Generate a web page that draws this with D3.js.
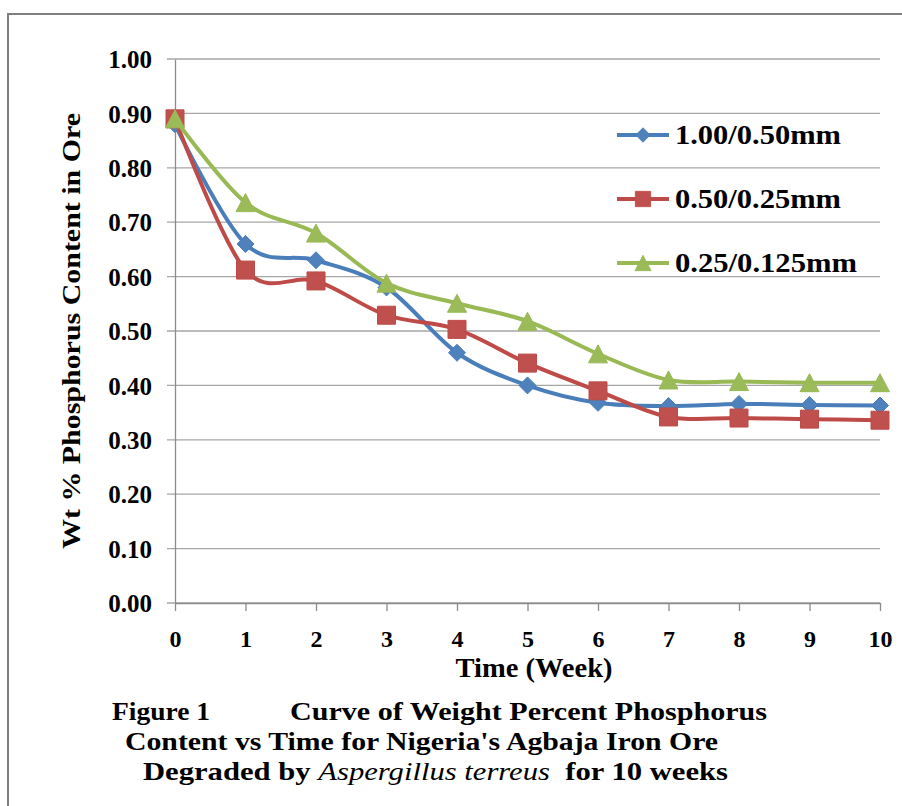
<!DOCTYPE html>
<html>
<head>
<meta charset="utf-8">
<script src="https://cdn.jsdelivr.net/npm/d3@7"></script>
<style>
  body { margin: 0; background: #fff; }
  svg { display: block; font-family: "Liberation Serif", "Times New Roman", serif; font-weight: bold; }
</style>
</head>
<body>
<div id="chart"></div>
<script>
/* Wt % phosphorus vs time - D3 line chart */
const weeks = [0, 1, 2, 3, 4, 5, 6, 7, 8, 9, 10];
const yTicks = [0, 0.1, 0.2, 0.3, 0.4, 0.5, 0.6, 0.7, 0.8, 0.9, 1.0];

const size100_050 = [0.88, 0.66, 0.63, 0.58, 0.46, 0.40, 0.368, 0.362, 0.366, 0.364, 0.363];
const size050_025 = [0.89, 0.612, 0.592, 0.529, 0.503, 0.441, 0.39, 0.342, 0.34, 0.338, 0.336];
const size025_0125 = [0.89, 0.736, 0.68, 0.588, 0.551, 0.518, 0.458, 0.41, 0.407, 0.405, 0.405];

const seriesNames = ["1.00/0.50mm", "0.50/0.25mm", "0.25/0.125mm"];

const height = 806,
    width = 902,
    margin = ({ top: 59, right: 22, bottom: 203, left: 175 });

const svg = d3.select("#chart")
    .append("svg")
    .attr("width", width)
    .attr("height", height);

// outer frame of the figure
svg.append("rect")
    .attr("x", 8).attr("y", 14)
    .attr("width", 1000).attr("height", 1000)
    .attr("fill", "none")
    .attr("stroke", "#7f7f7f")
    .attr("stroke-width", 2);

let x = d3.scaleLinear()
    .domain([0, 10])
    .range([margin.left, width - margin.right]);

let y = d3.scaleLinear()
    .domain([0, 1])
    .range([height - margin.bottom, margin.top]);

// horizontal gridlines (they also stick out left as tick marks)
svg.append("g")
  .selectAll("line")
  .data(yTicks)
  .join("line")
    .attr("x1", margin.left - 8)
    .attr("x2", x(10))
    .attr("y1", d => y(d))
    .attr("y2", d => y(d))
    .attr("stroke", "#a6a6a6")
    .attr("stroke-width", 1.3);

// y axis
const yAxis = svg.append("g")
    .attr("transform", `translate(${margin.left},0)`)
    .call(d3.axisLeft(y).tickValues(yTicks).tickSize(0).tickSizeOuter(0).tickFormat(d3.format(".2f")));
yAxis.attr("font-family", null).attr("font-size", null);
yAxis.select(".domain").attr("stroke", "#8c8c8c").attr("stroke-width", 1.3);
yAxis.selectAll("text")
    .attr("x", -23)
    .attr("dy", "0.35em")
    .attr("font-size", 25)
    .attr("fill", "#000");

// x axis
const xAxis = svg.append("g")
    .attr("transform", `translate(0,${y(0)})`)
    .call(d3.axisBottom(x).tickValues(weeks).tickSize(8).tickSizeOuter(0));
xAxis.attr("font-family", null).attr("font-size", null);
xAxis.select(".domain").attr("stroke", "#8c8c8c").attr("stroke-width", 1.3);
xAxis.selectAll(".tick line").attr("stroke", "#8c8c8c").attr("stroke-width", 1.3);
xAxis.selectAll("text")
    .attr("y", 44)
    .attr("dy", 0)
    .attr("font-size", 24)
    .attr("fill", "#000");

// axis titles
svg.append("text")
    .attr("text-anchor", "middle")
    .attr("x", 534)
    .attr("y", 677)
    .attr("font-size", 27)
    .attr("textLength", 157)
    .attr("lengthAdjust", "spacingAndGlyphs")
    .text("Time (Week)");

svg.append("text")
    .attr("text-anchor", "middle")
    .attr("transform", "translate(80,331) rotate(-90)")
    .attr("font-size", 25)
    .attr("textLength", 436)
    .attr("lengthAdjust", "spacingAndGlyphs")
    .text("Wt % Phosphorus Content in Ore");

const series = [
  { name: seriesNames[0], values: size100_050, line: "#4a7ebb", fill: "#4f81bd", marker: "diamond" },
  { name: seriesNames[1], values: size050_025, line: "#be4b48", fill: "#c0504d", marker: "square" },
  { name: seriesNames[2], values: size025_0125, line: "#98b954", fill: "#9bbb59", marker: "triangle" }
];

const markerPath = {
  diamond: "M0,-8.5L8.5,0L0,8.5L-8.5,0Z",
  square: "M-9,-9H9V9H-9Z",
  triangle: "M0,-9L9.5,9L-9.5,9Z"
};

let line = d3.line()
    .x((d, i) => x(weeks[i]))
    .y(d => y(d))
    .curve(d3.curveCardinal.tension(0)); // excel-like smoothing

series.forEach(s => {
  svg.append("path")
      .datum(s.values)
      .attr("d", line)
      .attr("fill", "none")
      .attr("stroke", s.line)
      .attr("stroke-width", 4)
      .attr("stroke-linejoin", "round");

  svg.append("g")
    .selectAll("path")
    .data(s.values)
    .join("path")
      .attr("transform", (d, i) => `translate(${x(weeks[i])},${y(d)})`)
      .attr("d", markerPath[s.marker])
      .attr("fill", s.fill)
      .attr("stroke", s.line)
      .attr("stroke-width", 1);
});

// legend (no box, gridlines show through)
const legendY = [135, 199, 263];
const legendLen = [166, 166, 182];
const legend = svg.append("g")
  .selectAll("g")
  .data(series)
  .join("g")
    .attr("transform", (d, i) => `translate(0,${legendY[i]})`);

legend.append("line")
    .attr("x1", 617).attr("x2", 669)
    .attr("stroke", d => d.line)
    .attr("stroke-width", 4);

legend.append("path")
    .attr("transform", "translate(643,0) scale(0.85)")
    .attr("d", d => markerPath[d.marker])
    .attr("fill", d => d.fill)
    .attr("stroke", d => d.line);

legend.append("text")
    .attr("x", 675)
    .attr("y", 9)
    .attr("font-size", 27)
    .attr("textLength", (d, i) => legendLen[i])
    .attr("lengthAdjust", "spacingAndGlyphs")
    .text(d => d.name);

// figure caption
const caption = svg.append("g").attr("font-size", 26);

caption.append("text")
    .attr("x", 112).attr("y", 720)
    .attr("textLength", 98).attr("lengthAdjust", "spacingAndGlyphs")
    .text("Figure 1");

caption.append("text")
    .attr("x", 290).attr("y", 720)
    .attr("textLength", 477).attr("lengthAdjust", "spacingAndGlyphs")
    .text("Curve of Weight Percent  Phosphorus");

caption.append("text")
    .attr("x", 125).attr("y", 750)
    .attr("textLength", 593).attr("lengthAdjust", "spacingAndGlyphs")
    .text("Content vs Time for Nigeria's Agbaja Iron Ore");

const line3 = caption.append("text")
    .attr("x", 143).attr("y", 780)
    .attr("textLength", 585).attr("lengthAdjust", "spacingAndGlyphs")
    .attr("xml:space", "preserve");
line3.append("tspan").text("Degraded by ");
line3.append("tspan").attr("font-style", "italic").attr("font-weight", "normal").text("Aspergillus terreus");
line3.append("tspan").text("  for 10 weeks");
</script>
</body>
</html>
